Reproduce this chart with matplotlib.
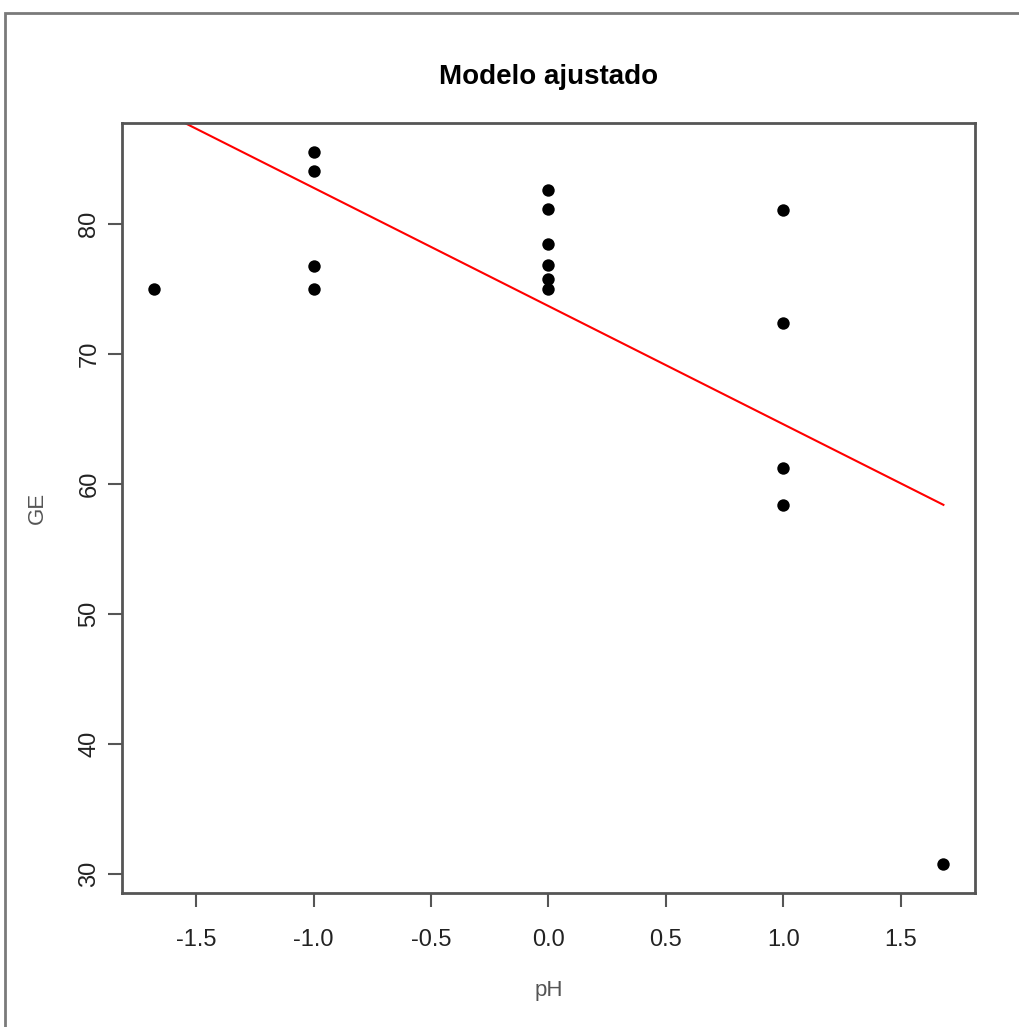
import matplotlib
matplotlib.use("Agg")
import matplotlib.pyplot as plt
from matplotlib.patches import Rectangle
import numpy as np

# Data
ph = [-1.682, -1, -1, -1, -1, 0, 0, 0, 0, 0, 0, 1, 1, 1, 1, 1.682]
ge = [75.0, 85.6, 84.1, 76.8, 75.0, 82.6, 81.2, 78.5, 76.9, 75.8, 75.0, 81.1, 72.4, 61.2, 58.4, 30.7]
fit_intercept = 73.7
fit_slope = -9.1
xticks = [-1.5, -1.0, -0.5, 0.0, 0.5, 1.0, 1.5]
yticks = [30, 40, 50, 60, 70, 80]

plt.rcParams['font.family'] = ['Liberation Sans', 'DejaVu Sans']

W, H = 1020, 1027
fig = plt.figure(figsize=(W / 100, H / 100), dpi=100)
fig.patch.set_facecolor('white')

# outer frame
fig.patches.append(Rectangle((5 / W, -0.02), 1.05, 1 - 13 / H + 0.02,
                             transform=fig.transFigure, fill=False,
                             edgecolor='#7a7a7a', linewidth=2, clip_on=False))

ax = fig.add_axes([122 / W, 1 - 893 / H, (975 - 122) / W, (893 - 123) / H])

xr = max(ph) - min(ph)
yr = max(ge) - min(ge)
xlim = (min(ph) - 0.04 * xr, max(ph) + 0.04 * xr)
ax.set_xlim(xlim)
ax.set_ylim(min(ge) - 0.04 * yr, max(ge) + 0.04 * yr)

ax.scatter(ph, ge, s=80, color='black', zorder=3, linewidths=0)
xs = np.array([min(ph), max(ph)])
ax.plot(xs, fit_intercept + fit_slope * xs, color='red', linewidth=1.5, zorder=2)
ax.set_xlim(xlim)

ax.set_xticks(xticks)
ax.set_xticklabels([f"{v:.1f}" for v in xticks])
ax.set_yticks(yticks)
ax.set_yticklabels([str(v) for v in yticks], rotation=90, va='center')

for sp in ax.spines.values():
    sp.set_color('#555555')
    sp.set_linewidth(2)
ax.tick_params(direction='out', length=10, width=1.5, color='#555555',
               labelsize=17, labelcolor='#222222')
ax.tick_params(axis='x', pad=16)
ax.tick_params(axis='y', pad=5.5)

ax.set_xlabel('pH', fontsize=16, color='#555555', labelpad=21)
ax.set_ylabel('GE', fontsize=16, color='#555555', labelpad=22)
ax.set_title('Modelo ajustado', fontsize=20, fontweight='bold', pad=28)

fig.savefig('out.png', dpi=100)
